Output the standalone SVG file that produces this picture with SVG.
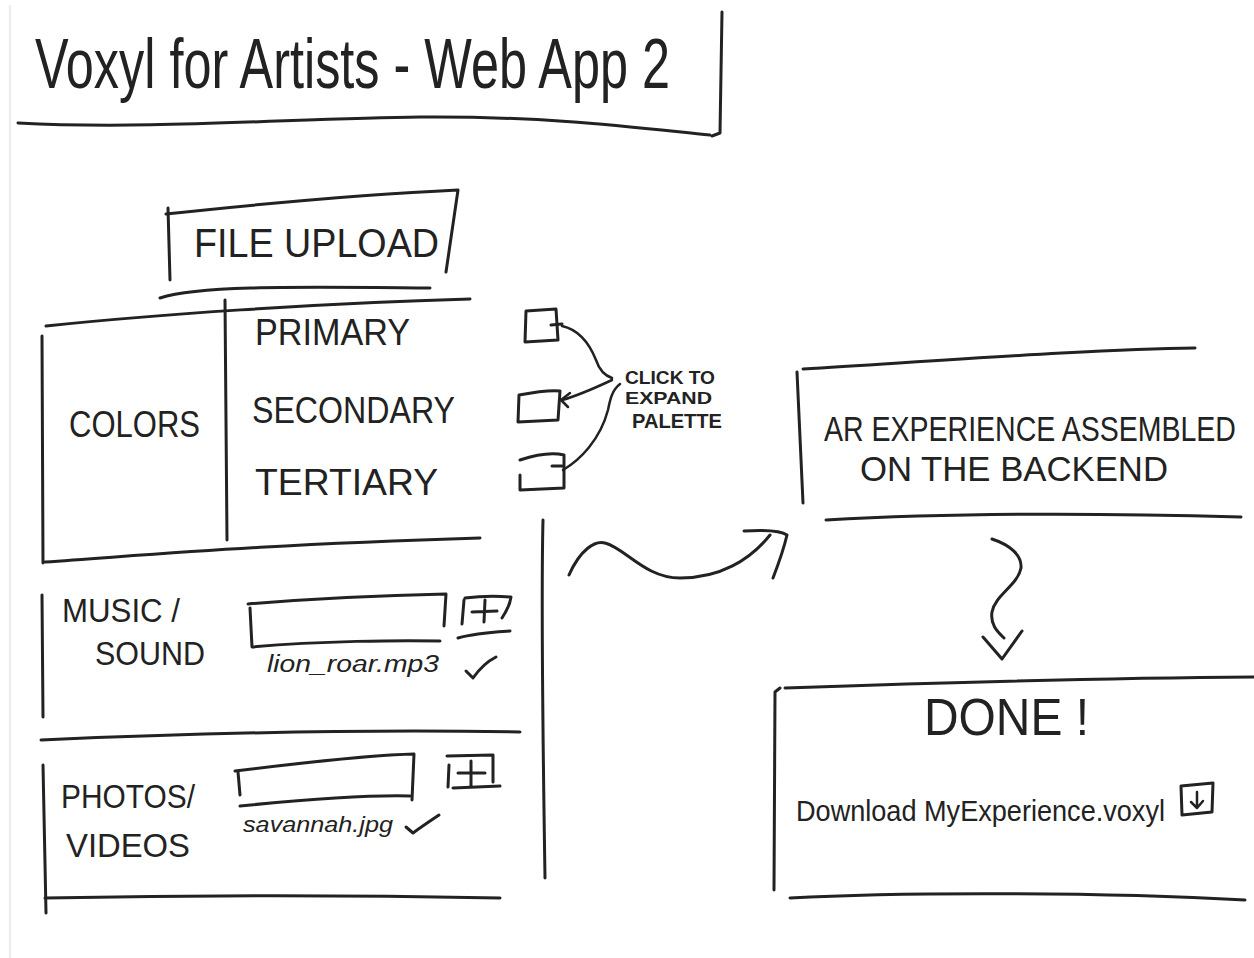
<svg xmlns="http://www.w3.org/2000/svg" width="1254" height="958" viewBox="0 0 1254 958">
<style>
.ln{fill:none;stroke:#222;stroke-width:3;stroke-linecap:round;stroke-linejoin:round}
.tn{fill:none;stroke:#222;stroke-width:2.5;stroke-linecap:round;stroke-linejoin:round}
.t{font-family:"Liberation Sans",Arial,sans-serif;fill:#222}
.hd{font-family:"Liberation Sans",Arial,sans-serif;fill:#222;font-weight:normal}
.sm{font-family:"Liberation Sans",Arial,sans-serif;fill:#222;font-weight:bold}
</style>
<rect x="0" y="0" width="1254" height="958" fill="#ffffff"/>
<line x1="10" y1="5" x2="10" y2="958" stroke="#e6e6e6" stroke-width="1.5"/>

<g id="title">
  <text class="hd" x="35" y="88" font-size="70" textLength="635" lengthAdjust="spacingAndGlyphs">Voxyl for Artists - Web App 2</text>
  <path class="ln" d="M18 123 C 150 130, 300 118, 420 117 C 550 116, 640 128, 710 135"/>
  <path class="ln" d="M722 12 L 720 133 L 712 136"/>
</g>

<g id="file-upload">
  <path class="ln" d="M168 208 L 170 280"/>
  <path class="ln" d="M166 214 C 250 205, 350 195, 458 190 L 446 272"/>
  <path class="ln" d="M160 298 C 200 285, 300 287, 430 288"/>
  <text class="hd" x="194" y="257" font-size="40" textLength="245" lengthAdjust="spacingAndGlyphs">FILE UPLOAD</text>
</g>

<g id="colors">
  <path class="ln" d="M46 326 C 150 315, 320 303, 470 299"/>
  <path class="ln" d="M42 336 L 43 563"/>
  <path class="ln" d="M225 300 L 227 540"/>
  <path class="ln" d="M45 562 C 150 555, 250 545, 480 538"/>
  <text class="hd" x="69" y="437" font-size="37" textLength="131" lengthAdjust="spacingAndGlyphs">COLORS</text>
  <text class="hd" x="255" y="345" font-size="36" textLength="155" lengthAdjust="spacingAndGlyphs">PRIMARY</text>
  <text class="hd" x="252" y="423" font-size="36" textLength="203" lengthAdjust="spacingAndGlyphs">SECONDARY</text>
  <text class="hd" x="255" y="495" font-size="37" textLength="183" lengthAdjust="spacingAndGlyphs">TERTIARY</text>
</g>

<g id="swatch-primary">
  <path class="ln" d="M526 311 L 556 309 L 558 340 L 525 342 Z"/>
  <path class="ln" d="M551 325 L 562 324"/>
</g>
<g id="swatch-secondary">
  <path class="ln" d="M519 395 C 535 392, 550 390, 560 391 L 558 420 L 518 422 Z"/>
</g>
<g id="swatch-tertiary">
  <path class="ln" d="M520 460 C 535 455, 552 452, 564 455 L 564 488 L 520 490 L 520 475"/>
  <path class="ln" d="M552 466 L 562 466"/>
</g>

<g id="click-to-expand">
  <text class="sm" x="625" y="384" font-size="19" textLength="90" lengthAdjust="spacingAndGlyphs">CLICK TO</text>
  <text class="sm" x="625" y="404" font-size="17" textLength="87" lengthAdjust="spacingAndGlyphs">EXPAND</text>
  <text class="sm" x="632" y="428" font-size="20" textLength="90" lengthAdjust="spacingAndGlyphs">PALETTE</text>
</g>

<g id="music">
  <path class="ln" d="M42 595 L 43 717"/>
  <text class="hd" x="62" y="622" font-size="34" textLength="118" lengthAdjust="spacingAndGlyphs">MUSIC /</text>
  <text class="hd" x="95" y="665" font-size="34" textLength="110" lengthAdjust="spacingAndGlyphs">SOUND</text>
  <path class="ln" d="M248 604 C 320 598, 400 595, 446 594 L 444 626"/>
  <path class="ln" d="M250 608 L 252 647 C 320 641, 400 640, 440 641"/>
  <path class="ln" d="M464 600 L 462 624"/>
  <path class="ln" d="M465 598 C 480 596, 500 596, 511 597 C 510 605, 506 612, 502 618"/>
  <path class="ln" d="M472 612 L 497 611 M485 600 L 484 622"/>
  <path class="ln" d="M458 638 C 475 633, 495 632, 510 631"/>
  <text class="t" x="267" y="672" font-size="23" font-style="italic" textLength="172" lengthAdjust="spacingAndGlyphs">lion_roar.mp3</text>
  <path class="ln" d="M466 671 L 473 678 C 480 668, 488 661, 496 657"/>
</g>

<path class="ln" d="M41 740 C 200 733, 350 729, 520 732"/>

<g id="photos">
  <path class="ln" d="M43 765 L 46 913"/>
  <text class="hd" x="61" y="808" font-size="34" textLength="134" lengthAdjust="spacingAndGlyphs">PHOTOS/</text>
  <text class="hd" x="66" y="857" font-size="34" textLength="124" lengthAdjust="spacingAndGlyphs">VIDEOS</text>
  <path class="ln" d="M235 771 C 300 763, 370 755, 414 754 L 412 800"/>
  <path class="ln" d="M238 772 L 240 795"/>
  <path class="ln" d="M240 806 C 300 800, 370 795, 410 796"/>
  <path class="ln" d="M449 765 L 448 787"/>
  <path class="ln" d="M447 756 L 493 755 L 493 782"/>
  <path class="ln" d="M453 788 L 500 786"/>
  <path class="ln" d="M458 773 L 485 773 M471 761 L 471 786"/>
  <text class="t" x="243" y="832" font-size="22" font-style="italic" textLength="150" lengthAdjust="spacingAndGlyphs">savannah.jpg</text>
  <path class="ln" d="M406 827 L 413 833 C 421 827, 430 821, 439 815"/>
  <path class="ln" d="M45 898 C 200 895, 350 895, 500 898"/>
</g>

<path class="ln" d="M543 520 C 541 600, 543 750, 545 878"/>

<g id="ar-backend">
  <path class="ln" d="M803 369 C 950 360, 1100 349, 1195 348"/>
  <path class="ln" d="M797 372 L 803 503"/>
  <text class="hd" transform="translate(824 441) scale(0.815 1)" x="0" y="0" font-size="35">AR EXPERIENCE ASSEMBLED</text>
  <text class="hd" x="860" y="481" font-size="35" textLength="308" lengthAdjust="spacingAndGlyphs">ON THE BACKEND</text>
  <path class="ln" d="M826 520 C 950 513, 1100 513, 1241 517"/>
</g>

<g id="done">
  <path class="ln" d="M785 688 C 900 684, 1100 678, 1254 677"/>
  <path class="ln" d="M780 688 L 775 692 L 774 890"/>
  <text class="t" x="924" y="735" font-size="51" textLength="165" lengthAdjust="spacingAndGlyphs">DONE !</text>
  <text class="t" x="796" y="821" font-size="29" textLength="369" lengthAdjust="spacingAndGlyphs">Download MyExperience.voxyl</text>
  <path class="ln" d="M1181 786 L 1213 783 L 1212 812 L 1182 815 Z"/>
  <path class="tn" d="M1197 792 L 1197 808 M1191 802 L 1197 808 L 1203 801"/>
  <path class="ln" d="M790 898 C 900 892, 1100 892, 1245 900"/>
</g>

<g id="connectors">
  <path class="tn" d="M562 326 C 580 330, 590 345, 596 360 C 600 372, 606 376, 612 378"/>
  <path class="tn" d="M612 380 C 595 388, 580 395, 562 400"/>
  <path class="tn" d="M570 393 L 561 400 L 568 407"/>
  <path class="tn" d="M620 384 C 612 390, 610 400, 608 410 C 600 440, 580 460, 563 470"/>
  <path class="ln" d="M569 575 C 580 550, 595 540, 605 543 C 625 548, 645 578, 680 578 C 720 578, 750 560, 770 535"/>
  <path class="ln" d="M744 531 C 760 530, 780 530, 787 535 C 784 548, 778 565, 773 578"/>
  <path class="ln" d="M992 539 C 1010 545, 1022 555, 1021 568 C 1018 585, 995 595, 992 612 C 990 625, 998 632, 1004 638"/>
  <path class="ln" d="M983 637 L 1002 659 L 1022 631"/>
</g>
</svg>
